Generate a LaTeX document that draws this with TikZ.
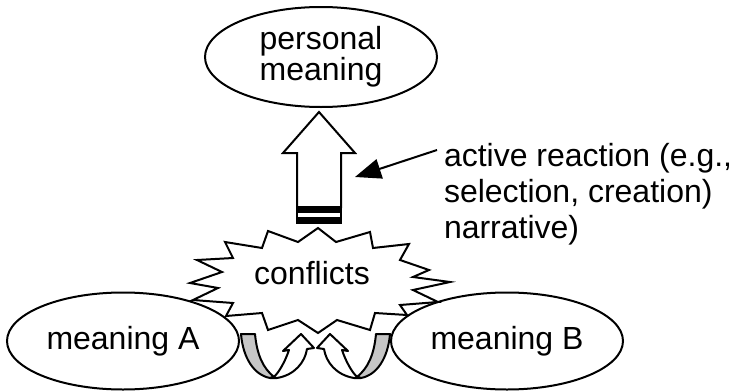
\documentclass[tikz,border=0pt]{standalone}
\usepackage{fontspec}
\setmainfont{Liberation Sans}
\usetikzlibrary{shapes.geometric,arrows.meta}
\begin{document}
\begin{tikzpicture}[x=1pt,y=-1pt,line width=2pt,
    txt/.style={font=\fontsize{32}{31}\selectfont},
    oval/.style={draw,ellipse,txt,align=center,inner sep=0pt,minimum width=232pt,minimum height=97pt},
    burst/.style={draw,fill=white},
    ribbon/.style={draw,fill=white,line join=round},
    backside/.style={draw,fill=gray!45,line join=round},
    pointer/.style={-{Triangle[length=26pt,width=20pt]}}]
  \useasboundingbox (0,0) rectangle (737,391);

  \node[oval,minimum height=100pt] (personal) at (321,57) {personal\\meaning};
  \node[oval] (meaningA) at (123,341) {meaning A};
  \node[oval] (meaningB) at (507,341) {meaning B};

  % starburst round the conflicts
  \draw[burst] (318,228) -- (336,242) -- (370,232) -- (373,248) -- (409,244) -- (400,260) -- (429,270) -- (413,277)
    -- (450,282) -- (413,290) -- (438,302) -- (400,305) -- (407,315) -- (375,313) -- (370,330) -- (337,320)
    -- (318,333) -- (298,320) -- (268,330) -- (262,313) -- (226,316) -- (233,303) -- (193,300) -- (218,288)
    -- (190,283) -- (222,272) -- (197,260) -- (233,258) -- (225,242) -- (262,248) -- (268,231) -- (298,242) -- cycle;
  \node[txt] (conflicts) at (312,273) {conflicts};

  % u-turn arrows from the two meanings
  \draw[backside] (241,334) -- (255,334) .. controls (257,355) and (263,368) .. (274,377) -- (270,378) .. controls (254,375) and (243,358) .. (241,334) -- cycle;
  \draw[ribbon] (270,378) -- (277,378) .. controls (295,375) and (305,362) .. (307,349) -- (314,348) -- (301,334) -- (283,351) -- (289,350) .. controls (285,362) and (279,372) .. (274,377) -- cycle;
  \draw[backside] (390,334) -- (376,334) .. controls (374,355) and (368,368) .. (357,377) -- (361,378) .. controls (377,375) and (388,358) .. (390,334) -- cycle;
  \draw[ribbon] (361,378) -- (354,378) .. controls (336,375) and (326,362) .. (324,349) -- (317,348) -- (330,334) -- (348,351) -- (342,350) .. controls (346,362) and (352,372) .. (357,377) -- cycle;

  % striped block arrow up to the personal meaning
  \draw[fill=white] (297,207) -- (297,153) -- (283,153) -- (319,112) -- (355,153) -- (341,153) -- (341,207) -- cycle;
  \fill (296,206) rectangle (342,212);
  \draw (297,212) rectangle (341,218);
  \fill (296,218) rectangle (342,224);

  \node[txt,align=left,anchor=west,inner sep=0pt,font=\fontsize{32}{36}\selectfont] (reaction) at (443,194) {active reaction (e.g.,\\selection, creation)\\narrative)};
  \coordinate (ptrtail) at (437,150);
  \coordinate (ptrtip) at (355,177);
  \draw[pointer] (ptrtail) -- (ptrtip);
\end{tikzpicture}
\end{document}
